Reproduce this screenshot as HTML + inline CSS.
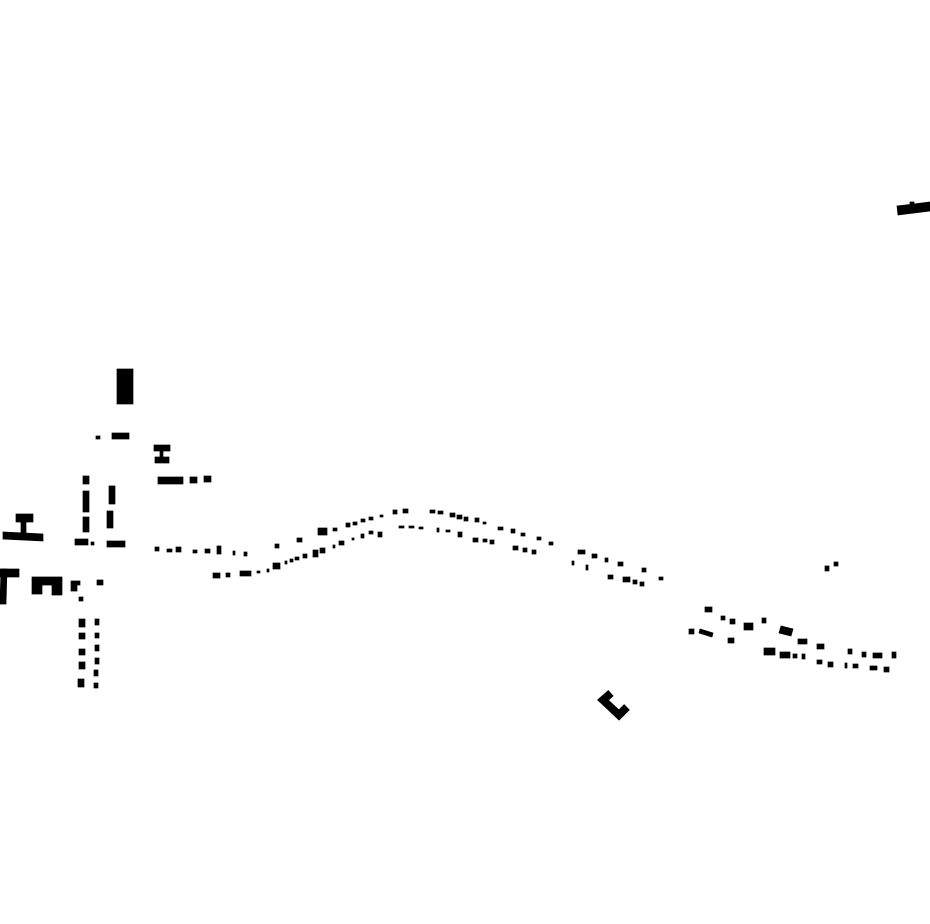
<!DOCTYPE html>
<html><head><meta charset="utf-8"><style>html,body{margin:0;padding:0;background:#fff;width:930px;height:924px;overflow:hidden}svg{display:block}rect,polygon,path{stroke:#000;stroke-width:0.7}</style></head>
<body>
<svg width="930" height="924" viewBox="0 0 930 924" xmlns="http://www.w3.org/2000/svg" fill="#000">
<polygon points="897,206 910,204.5 910,202 914,202 914,204 930,202 930,211 898,215"/>
<rect x="117" y="369" width="16" height="35"/>
<rect x="96" y="436" width="4" height="3"/><rect x="112" y="433" width="17" height="6"/>
<rect x="154" y="445" width="16" height="6"/><rect x="160" y="450" width="3" height="8"/><rect x="155" y="457" width="14" height="6"/>
<rect x="158" y="477" width="25" height="7"/><rect x="190" y="477" width="7" height="6"/><rect x="204" y="476" width="7" height="6"/>
<rect x="83" y="476" width="6" height="8"/><rect x="83" y="491" width="6" height="21"/><rect x="83" y="517" width="6" height="15"/>
<rect x="109" y="486" width="6" height="18"/><rect x="107" y="511" width="6" height="17"/>
<rect x="75" y="539" width="13" height="6"/><rect x="91" y="542" width="3" height="3"/><rect x="107" y="541" width="18" height="6"/>
<rect x="16" y="514" width="17" height="8"/><rect x="21" y="521" width="5" height="13"/><polygon points="3,532 43,534 43,541 3,539"/>
<rect x="0" y="569" width="19" height="8"/><polygon points="1,569 7,569 6,604 0,604"/>
<path d="M32,577 H62 V595 H52 V585 H42 V594 H32 Z"/>
<path d="M71,581 H80 V585 H77 V591 H71 Z"/><rect x="97" y="580" width="6" height="5"/><rect x="79" y="597" width="4" height="4"/>
<rect x="79" y="619" width="6" height="8"/><rect x="79" y="633" width="6" height="6"/><rect x="79" y="649" width="6" height="6"/><rect x="79" y="662" width="6" height="7"/><rect x="78" y="679" width="6" height="8"/>
<rect x="95" y="619" width="4" height="6"/><rect x="95" y="633" width="4" height="5"/><rect x="95" y="645" width="4" height="6"/><rect x="95" y="658" width="4" height="6"/><rect x="94" y="670" width="4" height="6"/><rect x="94" y="683" width="4" height="5"/>
<rect x="155" y="547" width="4" height="4"/><rect x="167" y="549" width="5" height="3"/><rect x="176" y="547" width="5" height="5"/><rect x="193" y="550" width="4" height="3"/><rect x="205" y="549" width="5" height="4"/><rect x="217" y="546" width="4" height="8"/><rect x="233" y="551" width="2" height="4"/><rect x="244" y="552" width="3" height="4"/>
<rect x="213" y="573" width="7" height="5"/><rect x="226" y="573" width="4" height="4"/><rect x="240" y="571" width="11" height="5"/><rect x="257" y="571" width="3" height="2"/>
<g>
<rect x="275" y="544" width="4" height="4"/><rect x="297" y="538" width="5" height="4"/><rect x="318" y="528" width="9" height="7"/><rect x="333" y="528" width="4" height="3"/><rect x="346" y="523" width="4" height="4"/><rect x="353" y="522" width="4" height="3"/><rect x="361" y="519" width="4" height="3"/><rect x="369" y="517" width="4" height="3"/><rect x="380" y="515" width="3" height="2"/><rect x="393" y="510" width="4" height="4"/><rect x="403" y="509" width="5" height="4"/><rect x="430" y="510" width="5" height="3"/><rect x="438" y="511" width="5" height="3"/><rect x="450" y="513" width="5" height="4"/><rect x="457" y="515" width="5" height="4"/><rect x="464" y="517" width="4" height="4"/><rect x="475" y="518" width="4" height="4"/><rect x="483" y="522" width="3" height="2"/><rect x="498" y="527" width="5" height="3"/><rect x="511" y="529" width="4" height="4"/><rect x="521" y="533" width="4" height="3"/><rect x="537" y="537" width="4" height="3"/><rect x="549" y="542" width="4" height="3"/><rect x="578" y="550" width="7" height="4"/><rect x="592" y="554" width="5" height="4"/><rect x="605" y="558" width="3" height="4"/><rect x="618" y="562" width="5" height="4"/><rect x="642" y="568" width="4" height="4"/><rect x="659" y="577" width="4" height="3"/>
</g>
<g>
<rect x="267" y="569" width="2" height="3"/><rect x="273" y="563" width="7" height="6"/><rect x="285" y="561" width="2" height="3"/><rect x="290" y="559" width="3" height="3"/><rect x="295" y="557" width="4" height="3"/><rect x="303" y="554" width="4" height="4"/><rect x="313" y="550" width="5" height="7"/><rect x="320" y="548" width="5" height="5"/><rect x="333" y="545" width="2" height="3"/><rect x="339" y="541" width="5" height="4"/><rect x="352" y="538" width="2" height="2"/><rect x="361" y="534" width="3" height="4"/><rect x="369" y="531" width="4" height="3"/><rect x="378" y="532" width="4" height="5"/><rect x="399" y="526" width="5" height="2"/><rect x="409" y="526" width="5" height="2"/><rect x="419" y="527" width="4" height="2"/><rect x="437" y="528" width="2" height="4"/><rect x="446" y="530" width="4" height="2"/><rect x="458" y="532" width="4" height="5"/><rect x="473" y="538" width="5" height="4"/><rect x="483" y="539" width="4" height="3"/><rect x="490" y="540" width="4" height="4"/><rect x="513" y="546" width="5" height="4"/><rect x="523" y="548" width="4" height="4"/><rect x="532" y="550" width="4" height="4"/><rect x="572" y="561" width="2" height="4"/><rect x="586" y="565" width="2" height="5"/><rect x="608" y="575" width="5" height="4"/><rect x="623" y="577" width="7" height="5"/><rect x="633" y="580" width="4" height="4"/><rect x="640" y="582" width="4" height="4"/>
</g>
<rect x="825" y="566" width="4" height="5"/><rect x="834" y="562" width="4" height="4"/>
<rect x="705" y="607" width="7" height="5"/><rect x="721" y="616" width="4" height="4"/><rect x="730" y="619" width="5" height="5"/><rect x="744" y="623" width="9" height="7"/><rect x="762" y="618" width="4" height="5"/><polygon points="781,626 793,629 791,636 779,633"/><rect x="798" y="639" width="9" height="5"/><rect x="817" y="644" width="7" height="5"/>
<rect x="689" y="629" width="5" height="5"/><polygon points="700,629 713,633 712,637 699,633"/><rect x="728" y="638" width="6" height="5"/>
<rect x="764" y="648" width="11" height="7"/><rect x="780" y="652" width="10" height="6"/><rect x="793" y="654" width="4" height="4"/><rect x="802" y="654" width="3" height="5"/><rect x="817" y="660" width="5" height="4"/><rect x="828" y="662" width="5" height="5"/><rect x="845" y="663" width="2" height="5"/><rect x="853" y="664" width="5" height="4"/><rect x="870" y="666" width="7" height="4"/><rect x="884" y="667" width="5" height="5"/>
<rect x="848" y="649" width="4" height="5"/><rect x="862" y="652" width="4" height="5"/><rect x="873" y="653" width="9" height="5"/><rect x="892" y="652" width="4" height="6"/>
<polyline points="611,693 603,700 619,715 627,707" fill="none" stroke="#000" stroke-width="8"/>
</svg>
</body></html>
